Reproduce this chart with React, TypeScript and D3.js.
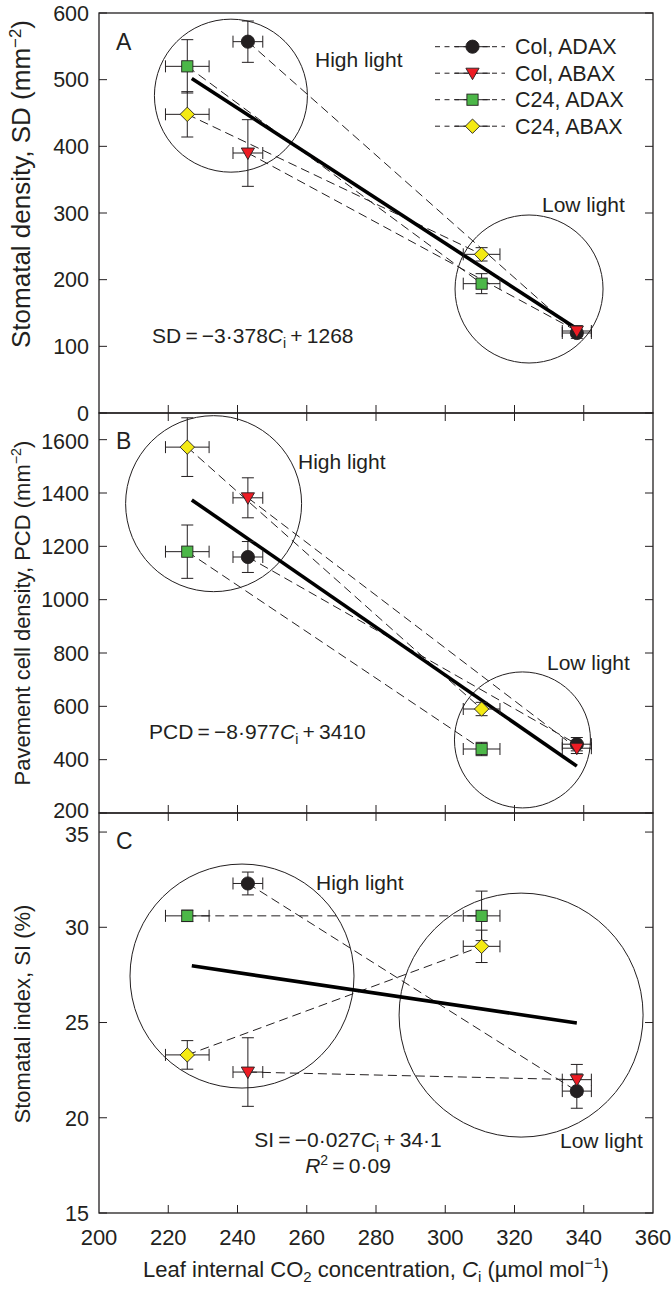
import React from 'react';
import * as d3 from 'd3';

// ---------- data ----------
const seriesNames = ['Col, ADAX', 'Col, ABAX', 'C24, ADAX', 'C24, ABAX'];
const seriesShapes = ['circle', 'triangle', 'square', 'diamond'];
const seriesColors = ['#231f20', '#ed1c24', '#4cb748', '#f4ea13'];

// Ci for [high light, low light]
const ciValues = [[243, 338], [243, 338], [225.5, 310.5], [225.5, 310.5]];
const ciErrors = [[4.3, 4.2], [4.3, 4.2], [6.3, 5.3], [6.3, 5.3]];

const sdValues = [[557, 120], [390, 123], [520, 194], [448, 238]];
const sdErrors = [[31, 8], [50, 8], [40, 15], [34, 10]];

const pcdValues = [[1160, 458], [1382, 443], [1180, 440], [1572, 590]];
const pcdErrors = [[58, 25], [75, 20], [100, 25], [110, 25]];

const siValues = [[32.3, 21.4], [22.4, 22.0], [30.6, 30.6], [23.3, 29.0]];
const siErrors = [[0.6, 0.9], [1.8, 0.8], [0.3, 1.3], [0.75, 0.85]];

const xTicks = [200, 220, 240, 260, 280, 300, 320, 340, 360];
const sdTicks = [0, 100, 200, 300, 400, 500, 600];
const pcdTicks = [200, 400, 600, 800, 1000, 1200, 1400, 1600];
const siTicks = [15, 20, 25, 30, 35];

const fitSlopes = [-3.378, -8.977, -0.027];
const fitIntercepts = [1268, 3410, 34.1];
const fitCiRange = [226.8, 338];

// group circles: [centre Ci, centre value] for high / low light
const groupCentersA = [[238.1, 476], [324.2, 186]];
const groupCentersB = [[233.1, 1360], [322.3, 474]];
const groupCentersC = [[241.3, 27.44], [321.9, 25.39]];

// ---------- layout ----------
const W = 672;
const H = 1291;
const X0 = 99;
const X1 = 653;
const FONT = "'Liberation Sans', Arial, Helvetica, sans-serif";
const INK = '#231f20';

const x = d3.scaleLinear().domain([200, 360]).range([X0, X1]);

const panels = [
  {
    letter: 'A', values: sdValues, errors: sdErrors, ticks: sdTicks,
    y: d3.scaleLinear().domain([0, 600]).range([413, 13]),
    centers: groupCentersA, radii: [76.5, 74],
    high: [315, 67], low: [542, 212], letterPos: [116, 50],
    eqPos: [152, 343], eqAnchor: 'start',
    eq: ['SD\u2009=\u2009\u22123\u00b7378', '\u2009+\u20091268'],
    title: ['Stomatal density, SD (mm', '\u22122', ')'], titleY: 184, titleSize: 26,
  },
  {
    letter: 'B', values: pcdValues, errors: pcdErrors, ticks: pcdTicks,
    y: d3.scaleLinear().domain([200, 1700]).range([813, 413]),
    centers: groupCentersB, radii: [88, 68],
    high: [298, 469], low: [547, 670], letterPos: [116, 449],
    eqPos: [149, 739], eqAnchor: 'start',
    eq: ['PCD\u2009=\u2009\u22128\u00b7977', '\u2009+\u20093410'],
    title: ['Pavement cell density, PCD (mm', '\u22122', ')'], titleY: 613, titleSize: 22,
  },
  {
    letter: 'C', values: siValues, errors: siErrors, ticks: siTicks,
    y: d3.scaleLinear().domain([15, 36]).range([1213, 813]),
    centers: groupCentersC, radii: [112, 122],
    high: [316, 890], low: [560, 1148], letterPos: [116, 849],
    eqPos: [348, 1147], eqAnchor: 'middle',
    eq: ['SI\u2009=\u2009\u22120\u00b7027', '\u2009+\u200934\u00b71'],
    title: ['Stomatal index, SI (%)', '', ''], titleY: 1014, titleSize: 22,
  },
];

function Marker({ shape, color, cx, cy }: { shape: string; color: string; cx: number; cy: number }) {
  const common = { fill: color, stroke: INK, strokeWidth: 0.9 };
  if (shape === 'circle') return <circle cx={cx} cy={cy} r={6.6} {...common} />;
  if (shape === 'square') return <rect x={cx - 5.6} y={cy - 5.6} width={11.2} height={11.2} {...common} />;
  if (shape === 'diamond') {
    const p = d3.path();
    p.moveTo(cx, cy - 7.2); p.lineTo(cx + 7.2, cy); p.lineTo(cx, cy + 7.2); p.lineTo(cx - 7.2, cy); p.closePath();
    return <path d={p.toString()} {...common} />;
  }
  const p = d3.path();
  p.moveTo(cx - 6.6, cy - 5); p.lineTo(cx + 6.6, cy - 5); p.lineTo(cx, cy + 6.5); p.closePath();
  return <path d={p.toString()} {...common} />;
}

function Panel({ cfg, idx }: { cfg: any; idx: number }) {
  const y = cfg.y;
  const [yb, yt] = y.range();
  const fitLine = d3.line<number>().x((c) => x(c)).y((c) => y(fitSlopes[idx] * c + fitIntercepts[idx]));
  const cap = 6;
  const tickMin = cfg.ticks[0];
  const tickMax = cfg.ticks[cfg.ticks.length - 1];
  return (
    <g>
      {/* group circles */}
      {cfg.centers.map((c: number[], k: number) => (
        <circle key={k} cx={x(c[0])} cy={y(c[1])} r={cfg.radii[k]} fill="none" stroke={INK} strokeWidth={1} />
      ))}
      {/* dashed connectors */}
      {cfg.values.map((v: number[], i: number) => (
        <line key={'d' + i} x1={x(ciValues[i][0])} y1={y(v[0])} x2={x(ciValues[i][1])} y2={y(v[1])}
          stroke={INK} strokeWidth={1} strokeDasharray="9,5" />
      ))}
      {/* regression */}
      <path d={fitLine(fitCiRange) || ''} fill="none" stroke="#000" strokeWidth={3.6} />
      {/* error bars */}
      {cfg.values.map((v: number[], i: number) =>
        [0, 1].map((k) => {
          const cx = x(ciValues[i][k]);
          const cy = y(v[k]);
          const ya = y(v[k] - cfg.errors[i][k]);
          const yb2 = y(v[k] + cfg.errors[i][k]);
          const xa = x(ciValues[i][k] - ciErrors[i][k]);
          const xb = x(ciValues[i][k] + ciErrors[i][k]);
          return (
            <g key={'e' + i + k} stroke={INK} strokeWidth={1}>
              <line x1={cx} x2={cx} y1={ya} y2={yb2} />
              <line x1={cx - cap} x2={cx + cap} y1={ya} y2={ya} />
              <line x1={cx - cap} x2={cx + cap} y1={yb2} y2={yb2} />
              <line x1={xa} x2={xb} y1={cy} y2={cy} />
              <line x1={xa} x2={xa} y1={cy - cap} y2={cy + cap} />
              <line x1={xb} x2={xb} y1={cy - cap} y2={cy + cap} />
            </g>
          );
        })
      )}
      {/* markers */}
      {cfg.values.map((v: number[], i: number) =>
        [0, 1].map((k) => (
          <Marker key={'m' + i + k} shape={seriesShapes[i]} color={seriesColors[i]} cx={x(ciValues[i][k])} cy={y(v[k])} />
        ))
      )}
      {/* frame */}
      <rect x={X0} y={yt} width={X1 - X0} height={yb - yt} fill="none" stroke={INK} strokeWidth={1.3} />
      {/* y ticks */}
      {cfg.ticks.map((t: number) => {
        let shift = 0;
        if (idx > 0 && t === tickMax) shift = 2;
        if (idx < 2 && t === tickMin && idx === 1) shift = -3;
        return (
          <g key={'yt' + t}>
            <line x1={X0} x2={X0 + 8} y1={y(t)} y2={y(t)} stroke={INK} strokeWidth={1} />
            <line x1={X1} x2={X1 - 8} y1={y(t)} y2={y(t)} stroke={INK} strokeWidth={1} />
            <text x={89} y={y(t) + shift} dy="0.36em" textAnchor="end" fontSize={21.5} fontFamily={FONT} fill={INK}>{t}</text>
          </g>
        );
      })}
      {/* x ticks: bottom always; top for B and C */}
      {xTicks.slice(1, -1).map((t) => (
        <g key={'xt' + t} stroke={INK} strokeWidth={1}>
          <line x1={x(t)} x2={x(t)} y1={yb} y2={yb - 8} />
          {idx > 0 && <line x1={x(t)} x2={x(t)} y1={yt} y2={yt + 8} />}
        </g>
      ))}
      {/* texts */}
      <text x={cfg.letterPos[0]} y={cfg.letterPos[1]} fontSize={23} fontFamily={FONT} fill={INK}>{cfg.letter}</text>
      <text x={cfg.high[0]} y={cfg.high[1]} fontSize={21} fontFamily={FONT} fill={INK}>High light</text>
      <text x={cfg.low[0]} y={cfg.low[1]} fontSize={21} fontFamily={FONT} fill={INK}>Low light</text>
      <text x={cfg.eqPos[0]} y={cfg.eqPos[1]} textAnchor={cfg.eqAnchor} fontSize={21} fontFamily={FONT} fill={INK}>
        {cfg.eq[0]}
        <tspan fontStyle="italic">C</tspan>
        <tspan dy={5} fontSize={14}>i</tspan>
        <tspan dy={-5}>{cfg.eq[1]}</tspan>
      </text>
      {idx === 2 && (
        <text x={cfg.eqPos[0]} y={cfg.eqPos[1] + 26} textAnchor="middle" fontSize={21} fontFamily={FONT} fill={INK}>
          <tspan fontStyle="italic">R</tspan>
          <tspan dy={-8} fontSize={14}>2</tspan>
          <tspan dy={8}>{'\u2009=\u20090\u00b709'}</tspan>
        </text>
      )}
      <text transform={`translate(30,${cfg.titleY}) rotate(-90)`} textAnchor="middle" fontSize={cfg.titleSize} fontFamily={FONT} fill={INK}>
        {cfg.title[0]}
        {cfg.title[1] && <tspan dy={-9} fontSize={cfg.titleSize * 0.65}>{cfg.title[1]}</tspan>}
        {cfg.title[2] && <tspan dy={9}>{cfg.title[2]}</tspan>}
      </text>
    </g>
  );
}

function Legend() {
  const rows = seriesNames.map((n, i) => ({ n, i, cy: 46.7 + i * 26.5 }));
  return (
    <g>
      {rows.map((r) => (
        <g key={r.n}>
          <line x1={435} x2={505} y1={r.cy} y2={r.cy} stroke={INK} strokeWidth={1} strokeDasharray="5,4.5" />
          <line x1={455} x2={490} y1={r.cy} y2={r.cy} stroke={INK} strokeWidth={1} />
          <Marker shape={seriesShapes[r.i]} color={seriesColors[r.i]} cx={472.5} cy={r.cy} />
          <text x={515} y={r.cy + 7.6} fontSize={21.5} fontFamily={FONT} fill={INK}>{r.n}</text>
        </g>
      ))}
    </g>
  );
}

export default function App() {
  return (
    <svg width={W} height={H} viewBox={`0 0 ${W} ${H}`} style={{ position: 'absolute', left: 0, top: 0, background: '#fff' }}>
      <rect width={W} height={H} fill="#fff" />
      {panels.map((p, i) => <Panel key={p.letter} cfg={p} idx={i} />)}
      <Legend />
      {xTicks.map((t) => (
        <text key={'xl' + t} x={x(t)} y={1245} textAnchor="middle" fontSize={22} fontFamily={FONT} fill={INK}>{t}</text>
      ))}
      <text x={(X0 + X1) / 2} y={1277} textAnchor="middle" fontSize={22} fontFamily={FONT} fill={INK}>
        Leaf internal CO<tspan dy={5} fontSize={15}>2</tspan>
        <tspan dy={-5}> concentration, </tspan>
        <tspan fontStyle="italic">C</tspan>
        <tspan dy={5} fontSize={15}>i</tspan>
        <tspan dy={-5}> (µmol mol</tspan>
        <tspan dy={-9} fontSize={15}>{'\u22121'}</tspan>
        <tspan dy={9}>)</tspan>
      </text>
    </svg>
  );
}
